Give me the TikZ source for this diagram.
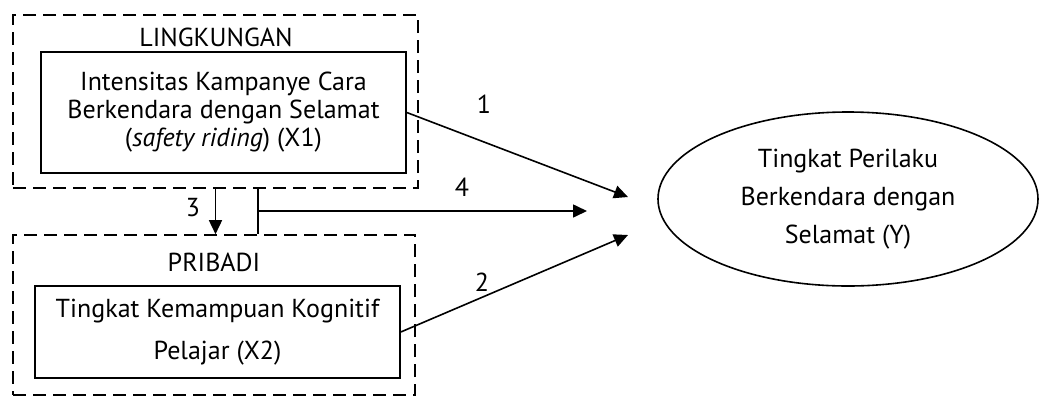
\documentclass[tikz,border=0pt]{standalone}
\usepackage{fontspec}
\setmainfont{PT Sans}
\usetikzlibrary{arrows.meta,shapes.geometric}
\begin{document}
\begin{tikzpicture}[>={Triangle[length=7pt,width=6.5pt]}, x=0.5pt, y=-0.5pt, line width=0.8pt,
		dashbox/.style={draw, dash pattern=on 6.5pt off 3.5pt, inner sep=0pt},
		varbox/.style={draw, align=center, inner sep=0pt, font=\fontsize{13}{14}\selectfont},
		lbl/.style={font=\fontsize{13}{14}\selectfont}]
	\useasboundingbox (0,0) rectangle (1039,397);
	% kelompok lingkungan
	\node[dashbox, minimum width=202.5pt, minimum height=86.5pt] (lingk) at (215.5,101.5) {};
	\node[lbl] (lingklbl) at (216,37) {LINGKUNGAN};
	\node[varbox, minimum width=182.5pt, minimum height=60.5pt] (xa) at (223.5,112.5)
		{Intensitas Kampanye Cara\\Berkendara dengan Selamat\\(\textit{safety riding}) (X1)};
	% kelompok pribadi
	\node[dashbox, minimum width=201pt, minimum height=80pt] (prib) at (214,315) {};
	\node[lbl] (priblbl) at (214,262) {PRIBADI};
	\node[varbox, minimum width=182.5pt, minimum height=46pt, font=\fontsize{13}{21}\selectfont] (xb) at (217.5,332)
		{Tingkat Kemampuan Kognitif\\Pelajar (X2)};
	% variabel terikat
	\node[draw, ellipse, inner sep=0pt, minimum width=190pt, minimum height=87pt, align=center,
		font=\fontsize{13}{19}\selectfont] (y) at (848,199)
		{Tingkat Perilaku\\Berkendara dengan\\Selamat (Y)};
	% ujung panah
	\coordinate (ta) at (628,197);
	\coordinate (tb) at (628,235);
	\coordinate (jd) at (258,211);
	\coordinate (td) at (587,211);
	\draw[->] (xa.east) -- (ta);
	\draw[->] (xb.east) -- (tb);
	\draw[->] (lingk.south) -- (lingk.south |- prib.north);
	\draw (jd |- lingk.south) -- (jd |- prib.north);
	\draw[->] (jd) -- (td);
	\node[lbl] (na) at (484,104) {1};
	\node[lbl] (nb) at (482,282) {2};
	\node[lbl] (nc) at (193,208) {3};
	\node[lbl] (nd) at (462,187) {4};
\end{tikzpicture}
\end{document}
